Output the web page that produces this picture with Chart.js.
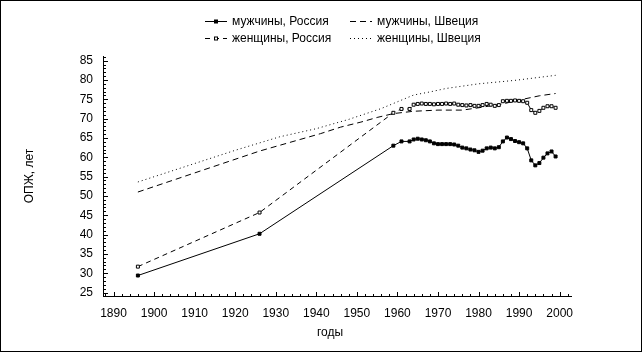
<!DOCTYPE html>
<html>
<head>
<meta charset="utf-8">
<script src="https://cdn.jsdelivr.net/npm/chart.js@4"></script>
<style>
html, body { margin: 0; padding: 0; background: #fff; }
canvas { display: block; }
</style>
</head>
<body>
<canvas id="chart" width="642" height="352"></canvas>
<script>
"use strict";

// Russia: census years, then annual values
var ruYears = [1896, 1926, 1959, 1961,
	1963, 1964, 1965, 1966, 1967, 1968, 1969, 1970, 1971, 1972, 1973, 1974,
	1975, 1976, 1977, 1978, 1979, 1980, 1981, 1982, 1983, 1984, 1985, 1986,
	1987, 1988, 1989, 1990, 1991, 1992, 1993, 1994, 1995, 1996, 1997, 1998, 1999];
var ruMen = [29.4, 40.2, 63.0, 64.1,
	64.1, 64.6, 64.8, 64.6, 64.4, 64.1, 63.6, 63.4, 63.4, 63.4, 63.4, 63.3,
	63.0, 62.5, 62.3, 62.0, 61.8, 61.4, 61.7, 62.3, 62.5, 62.3, 62.6, 64.1,
	65.1, 64.7, 64.2, 63.9, 63.6, 62.3, 59.2, 57.9, 58.5, 59.9, 61.0, 61.5, 60.2];
var ruWomen = [31.7, 45.7, 71.5, 72.5,
	72.5, 73.6, 73.8, 73.9, 73.8, 73.8, 73.7, 73.8, 73.8, 73.9, 73.8, 73.9,
	73.6, 73.5, 73.4, 73.5, 73.3, 73.3, 73.5, 73.8, 73.6, 73.3, 73.5, 74.5,
	74.6, 74.6, 74.7, 74.6, 74.5, 74.1, 72.2, 71.5, 72.0, 72.8, 73.2, 73.2, 72.8];

// Sweden
var seMenYears = [1896, 1926, 1931, 1936, 1941, 1946, 1951, 1955, 1959, 1964,
	1970, 1976, 1980, 1986, 1990, 1995, 1999];
var seMen = [51.0, 61.6, 63.1, 64.6, 66.1, 67.8, 69.1, 70.3, 71.3, 71.9,
	72.2, 72.2, 72.8, 73.8, 74.8, 75.9, 76.5];
var seWomenYears = [1896, 1920, 1931, 1940, 1948, 1956, 1964, 1968, 1972, 1980,
	1989, 1999];
var seWomen = [53.6, 61.8, 65.3, 67.4, 69.8, 72.6, 76.1, 76.9, 77.8, 79.0,
	79.9, 81.2];

var xTicks = [1890, 1900, 1910, 1920, 1930, 1940, 1950, 1960, 1970, 1980, 1990, 2000];
var yTicks = [25, 30, 35, 40, 45, 50, 55, 60, 65, 70, 75, 80, 85];

var seriesNames = ["мужчины, Россия", "женщины, Россия", "мужчины, Швеция", "женщины, Швеция"];
var xTitle = "годы";
var yTitle = "ОПЖ, лет";

var FONT = "'Liberation Sans', Arial, sans-serif";

function pairs(xs, ys) {
	return xs.map(function (x, i) { return { x: x, y: ys[i] }; });
}

var datasets = [
	{ label: seriesNames[0], data: pairs(ruYears, ruMen), borderDash: [],
		pointStyle: "rect", pointRadius: 2.1, pointBackgroundColor: "#000" },
	{ label: seriesNames[1], data: pairs(ruYears, ruWomen), borderDash: [5, 4],
		pointStyle: "rect", pointRadius: 2.1, pointBackgroundColor: "#fff" },
	{ label: seriesNames[2], data: pairs(seMenYears, seMen), borderDash: [6, 4],
		pointRadius: 0 },
	{ label: seriesNames[3], data: pairs(seWomenYears, seWomen), borderDash: [1, 3],
		pointRadius: 0 }
];
datasets.forEach(function (d) {
	d.borderColor = "#000";
	d.borderWidth = 1;
	d.pointBorderColor = "#000";
	d.pointBorderWidth = 1;
	d.pointHoverRadius = d.pointRadius;
	d.tension = 0;
	d.fill = false;
});

// white page with a thin black frame
var framePlugin = {
	id: "frame",
	beforeDraw: function (chart) {
		var ctx = chart.ctx;
		ctx.save();
		ctx.fillStyle = "#fff";
		ctx.fillRect(0, 0, chart.width, chart.height);
		ctx.restore();
	},
	afterDraw: function (chart) {
		var ctx = chart.ctx;
		ctx.save();
		ctx.strokeStyle = "#000";
		ctx.lineWidth = 1;
		ctx.strokeRect(0.5, 0.5, chart.width - 1, chart.height - 1);
		ctx.restore();
	}
};

// ticks point inward, with minor ticks between labels
var ticksPlugin = {
	id: "inTicks",
	afterDraw: function (chart) {
		var ctx = chart.ctx, xs = chart.scales.x, ys = chart.scales.y;
		var area = chart.chartArea, v, p, len;
		ctx.save();
		ctx.strokeStyle = "#000";
		ctx.lineWidth = 1;
		ctx.beginPath();
		for (v = Math.ceil(ys.min); v <= ys.max; v++) {
			p = Math.round(ys.getPixelForValue(v)) + 0.5;
			len = v % 5 === 0 ? 5 : 3;
			ctx.moveTo(area.left, p);
			ctx.lineTo(area.left + len, p);
		}
		for (v = Math.ceil(xs.min / 2) * 2; v <= xs.max; v += 2) {
			p = Math.round(xs.getPixelForValue(v)) + 0.5;
			len = v % 10 === 0 ? 4 : 2;
			ctx.moveTo(p, area.bottom);
			ctx.lineTo(p, area.bottom - len);
		}
		ctx.stroke();
		ctx.restore();
	}
};

// two-column legend above the plot, and the axis titles
var legendPlugin = {
	id: "twoColLegend",
	afterDraw: function (chart) {
		var ctx = chart.ctx;
		var slots = [[205, 21], [205, 38], [350, 21], [350, 38]];
		ctx.save();
		ctx.font = "12px " + FONT;
		ctx.fillStyle = "#000";
		ctx.textBaseline = "middle";
		chart.data.datasets.forEach(function (d, i) {
			var x = slots[i][0], y = slots[i][1] + 0.5;
			ctx.strokeStyle = "#000";
			ctx.lineWidth = 1;
			ctx.setLineDash(d.borderDash);
			ctx.beginPath();
			ctx.moveTo(x, y);
			ctx.lineTo(x + 22, y);
			ctx.stroke();
			ctx.setLineDash([]);
			if (d.pointRadius > 0) {
				ctx.fillStyle = d.pointBackgroundColor;
				ctx.fillRect(x + 9.5, y - 1.5, 3, 3);
				ctx.strokeRect(x + 9.5, y - 1.5, 3, 3);
			}
			ctx.fillStyle = "#000";
			ctx.textAlign = "left";
			ctx.fillText(d.label, x + 27, y);
		});
		ctx.textAlign = "center";
		ctx.fillText(xTitle, 330, 333);
		ctx.translate(30, 176);
		ctx.rotate(-Math.PI / 2);
		ctx.fillText(yTitle, 0, 0);
		ctx.restore();
	}
};

new Chart(document.getElementById("chart"), {
	type: "line",
	data: { datasets: datasets },
	options: {
		responsive: false,
		animation: false,
		devicePixelRatio: 1,
		layout: { padding: { left: 0, top: 56, right: 71, bottom: 0 } },
		plugins: { legend: { display: false }, tooltip: { enabled: false } },
		scales: {
			x: {
				type: "linear",
				min: 1887.4,
				max: 2002.8,
				afterBuildTicks: function (axis) {
					axis.ticks = xTicks.map(function (v) { return { value: v }; });
				},
				afterFit: function (axis) { axis.height = 56; },
				grid: { display: false, drawTicks: false },
				border: { display: true, color: "#000", width: 1 },
				ticks: { color: "#000", padding: 10, maxRotation: 0,
					font: { family: FONT, size: 12 },
					callback: function (v) { return String(v); } }
			},
			y: {
				type: "linear",
				min: 24.1,
				max: 86.2,
				afterBuildTicks: function (axis) {
					axis.ticks = yTicks.map(function (v) { return { value: v }; });
				},
				afterFit: function (axis) { axis.width = 103; },
				grid: { display: false, drawTicks: false },
				border: { display: true, color: "#000", width: 1 },
				ticks: { color: "#000", padding: 10,
					font: { family: FONT, size: 12 },
					callback: function (v) { return String(v); } }
			}
		}
	},
	plugins: [framePlugin, ticksPlugin, legendPlugin]
});
</script>
</body>
</html>
